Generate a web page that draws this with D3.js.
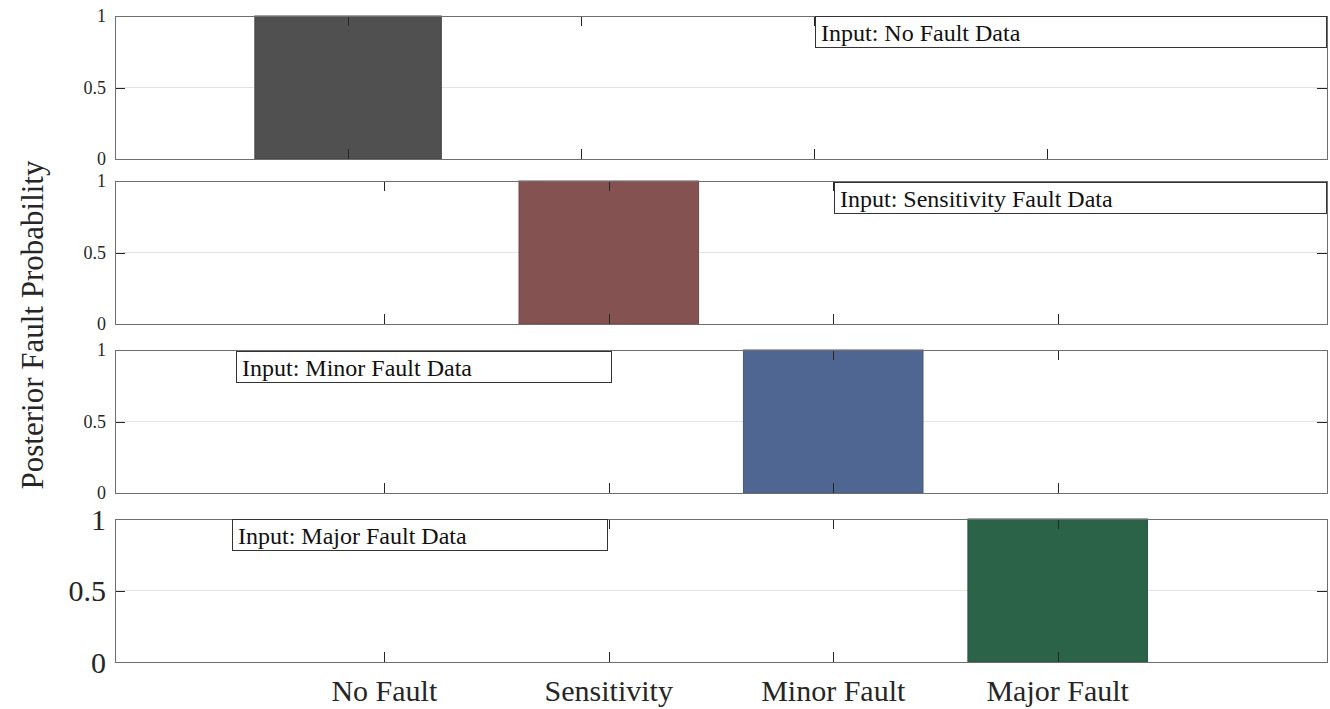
<!DOCTYPE html>
<html>
<head>
<meta charset="utf-8">
<script src="https://cdn.jsdelivr.net/npm/d3@7"></script>
<style>
  body { margin: 0; background: #fff; }
</style>
</head>
<body>
<svg id="chart" width="1330" height="709" font-family="'Liberation Serif', 'DejaVu Serif', serif"></svg>
<script>
// categories on the x axis
var categories = ["No Fault", "Sensitivity", "Minor Fault", "Major Fault"]
// one panel per input case
var panelLabels = ["Input: No Fault Data", "Input: Sensitivity Fault Data", "Input: Minor Fault Data", "Input: Major Fault Data"]
var noFaultProb = [1, 0, 0, 0]
var sensitivityProb = [0, 1, 0, 0]
var minorProb = [0, 0, 1, 0]
var majorProb = [0, 0, 0, 1]
var yTicks = [0, 0.5, 1]
var barColors = ["#505050", "#855252", "#4f6592", "#2b6348"]

var series = [noFaultProb, sensitivityProb, minorProb, majorProb]

var serif = "'Liberation Serif', 'Times New Roman', serif"

// layout (pixels) for each panel
var left = 115, right = 1327
var panelTops = [16, 181, 350, 519]
var panelH = 143
var xDomains = [[0, 5.2], [-0.2, 5.2], [-0.2, 5.2], [-0.2, 5.2]]
var boxes = [
  {x0: 815, x1: 1326, top: 16},
  {x0: 834, x1: 1326, top: 182},
  {x0: 236, x1: 611, top: 351},
  {x0: 232, x1: 607, top: 519}
]
var tickLen = 10

var svg = d3.select("#chart")

series.forEach(function(values, p){
  var top = panelTops[p]
  var last = p === series.length - 1
  var x = d3.scaleLinear().domain(xDomains[p]).range([left, right])
  var y = d3.scaleLinear().domain([0, 1]).range([top + panelH, top])
  var g = svg.append("g")

  // grid at 0.5
  g.append("line")
    .attr("x1", left).attr("x2", right)
    .attr("y1", y(0.5)).attr("y2", y(0.5))
    .style("stroke", "#e3e3e3").style("stroke-width", 1)

  // bars
  var bw = x(1.4) - x(0.6)
  g.selectAll("rect.bar")
      .data(values)
    .enter().append("rect")
      .attr("class", "bar")
      .attr("x", function(d, i){ return x(i + 1) - bw/2 })
      .attr("y", function(d){ return y(d) })
      .attr("width", bw)
      .attr("height", function(d){ return y(0) - y(d) })
      .style("fill", barColors[p])
      .style("stroke", d3.color(barColors[p]).darker(0.4))
      .style("stroke-width", 1)

  // x ticks, bottom and top, pointing in
  categories.forEach(function(c, i){
    var xx = Math.round(x(i + 1)) + 0.5
    g.append("line").attr("x1", xx).attr("x2", xx)
      .attr("y1", y(0)).attr("y2", y(0) - tickLen)
      .style("stroke", "#262626")
    g.append("line").attr("x1", xx).attr("x2", xx)
      .attr("y1", y(1)).attr("y2", y(1) + tickLen)
      .style("stroke", "#262626")
  })

  // y ticks on both sides
  yTicks.forEach(function(t){
    var yy = Math.round(y(t)) + 0.5
    g.append("line").attr("x1", left).attr("x2", left + tickLen)
      .attr("y1", yy).attr("y2", yy).style("stroke", "#262626")
    g.append("line").attr("x1", right - tickLen).attr("x2", right)
      .attr("y1", yy).attr("y2", yy).style("stroke", "#262626")
  })

  // y tick labels
  var fs = last ? 30 : 18
  g.selectAll("text.ytick")
      .data(yTicks)
    .enter().append("text")
      .attr("class", "ytick")
      .attr("x", left - 9)
      .attr("y", function(d){ return y(d) })
      .attr("dy", "0.35em")
      .attr("text-anchor", "end")
      .attr("font-family", serif)
      .attr("fill", "#262626")
      .style("font-size", fs + "px")
      .text(function(d){ return d })

  // frame
  g.append("rect")
    .attr("x", left + 0.5).attr("y", top + 0.5)
    .attr("width", right - left).attr("height", panelH)
    .style("fill", "none").style("stroke", "#6e6e6e").style("stroke-width", 1)

  // label box
  var b = boxes[p]
  g.append("rect")
    .attr("x", b.x0 + 0.5).attr("y", b.top + 0.5)
    .attr("width", b.x1 - b.x0).attr("height", 31)
    .style("fill", "#fff").style("stroke", "#333").style("stroke-width", 1)
  g.append("text")
    .attr("x", b.x0 + 6).attr("y", b.top + 25)
    .attr("font-family", serif)
    .attr("fill", "#111")
    .style("font-size", "24px")
    .text(panelLabels[p])

  // x tick labels only on the bottom panel
  if (last) {
    g.selectAll("text.xtick")
        .data(categories)
      .enter().append("text")
        .attr("class", "xtick")
        .attr("x", function(d, i){ return x(i + 1) })
        .attr("y", top + panelH + 39)
        .attr("text-anchor", "middle")
        .attr("font-family", serif)
        .attr("fill", "#262626")
        .style("font-size", "30px")
        .text(function(d){ return d })
  }
})

svg.append("text")
  .attr("transform", "translate(43,325) rotate(-90)")
  .attr("text-anchor", "middle")
  .attr("font-family", serif)
  .attr("fill", "#262626")
  .style("font-size", "31px")
  .text("Posterior Fault Probability")
</script>
</body>
</html>
